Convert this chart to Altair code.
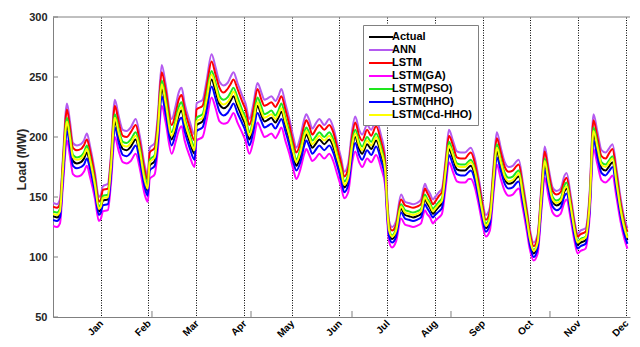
import altair as alt
import pandas as pd

months = ["Jan", "Feb", "Mar", "Apr", "May", "Jun", "Jul", "Aug", "Sep", "Oct", "Nov", "Dec"]
month_pos = [1, 2, 3, 4, 5, 6, 7, 8, 9, 10, 11, 12]
y_ticks = [50, 100, 150, 200, 250, 300]
minor_x_ticks = [2.073, 4.147, 6.262, 8.335, 10.408]

x = [0.000, 0.084, 0.146, 0.209, 0.292, 0.355, 0.418, 0.501, 0.585, 0.647,
     0.710, 0.773, 0.877, 0.961, 1.003, 1.044, 1.149, 1.211, 1.295, 1.378,
     1.462, 1.545, 1.629, 1.733, 1.817, 1.921, 1.984, 2.026, 2.130, 2.193,
     2.277, 2.360, 2.485, 2.569, 2.632, 2.694, 2.757, 2.862, 2.966, 3.008,
     3.133, 3.217, 3.321, 3.405, 3.488, 3.572, 3.655, 3.718, 3.780, 3.864,
     3.968, 4.031, 4.114, 4.198, 4.282, 4.365, 4.428, 4.490, 4.574, 4.657,
     4.720, 4.783, 4.866, 4.950, 5.033, 5.096, 5.180, 5.263, 5.305, 5.368,
     5.430, 5.514, 5.577, 5.681, 5.786, 5.869, 5.953, 6.036, 6.099, 6.182,
     6.266, 6.329, 6.412, 6.475, 6.579, 6.663, 6.767, 6.872, 6.955, 6.997,
     7.039, 7.101, 7.185, 7.289, 7.373, 7.456, 7.540, 7.623, 7.707, 7.790,
     7.832, 7.895, 7.958, 8.000, 8.083, 8.146, 8.229, 8.292, 8.376, 8.459,
     8.543, 8.626, 8.710, 8.751, 8.835, 8.918, 8.981, 9.065, 9.148, 9.231,
     9.294, 9.378, 9.461, 9.545, 9.628, 9.712, 9.754, 9.837, 9.921, 9.983,
     10.067, 10.150, 10.234, 10.297, 10.380, 10.464, 10.547, 10.631, 10.714, 10.756,
     10.840, 10.923, 10.986, 11.048, 11.153, 11.236, 11.320, 11.403, 11.487, 11.571,
     11.654, 11.717, 11.800, 11.884, 11.967, 12.030]

actual = [134, 133, 136, 170, 210, 196, 180, 178, 179, 182,
          187, 178, 158, 138, 140, 147, 148, 170, 213, 200,
          190, 189, 192, 198, 185, 162, 155, 176, 180, 200,
          240, 225, 198, 208, 218, 222, 210, 196, 186, 210,
          213, 228, 248, 238, 227, 224, 226, 230, 234, 226,
          216, 210, 198, 210, 226, 218, 213, 214, 216, 212,
          216, 221, 210, 198, 184, 176, 184, 198, 202, 197,
          191, 195, 198, 194, 198, 192, 180, 168, 158, 164,
          190, 200, 190, 186, 194, 190, 197, 185, 170, 140,
          120, 115, 120, 140, 135, 134, 133, 134, 136, 148,
          145, 141, 136, 138, 142, 145, 170, 190, 182, 173,
          172, 172, 175, 176, 168, 152, 138, 124, 130, 165,
          188, 176, 165, 161, 162, 166, 167, 150, 130, 114,
          103, 110, 150, 177, 160, 146, 143, 145, 155, 157,
          140, 120, 110, 112, 114, 140, 202, 188, 174, 172,
          176, 179, 160, 138, 122, 114]

ann = [145, 144, 148, 184, 228, 213, 195, 193, 194, 197,
       203, 193, 171, 150, 152, 159, 161, 184, 231, 217,
       206, 205, 208, 215, 201, 176, 168, 191, 195, 217,
       260, 244, 215, 226, 237, 241, 228, 213, 202, 228,
       231, 247, 269, 258, 246, 243, 245, 250, 254, 245,
       234, 228, 215, 228, 245, 237, 231, 232, 234, 230,
       234, 240, 228, 215, 200, 191, 200, 215, 219, 214,
       207, 212, 215, 210, 215, 208, 195, 182, 171, 178,
       206, 217, 206, 202, 210, 206, 214, 201, 184, 152,
       130, 125, 130, 152, 146, 145, 144, 145, 148, 161,
       157, 153, 148, 150, 154, 157, 184, 206, 197, 188,
       187, 187, 190, 191, 182, 165, 150, 135, 141, 179,
       204, 191, 179, 175, 176, 180, 181, 163, 141, 124,
       112, 119, 163, 192, 174, 158, 155, 157, 168, 170,
       152, 130, 119, 122, 124, 152, 219, 204, 189, 187,
       191, 194, 174, 150, 132, 124]

lstm = [142, 141, 144, 180, 223, 208, 191, 189, 190, 193,
        198, 189, 167, 146, 148, 156, 157, 180, 226, 212,
        201, 200, 204, 210, 196, 172, 164, 187, 191, 212,
        254, 239, 210, 220, 231, 235, 223, 208, 197, 223,
        226, 242, 263, 252, 241, 237, 240, 244, 248, 240,
        229, 223, 210, 223, 240, 231, 226, 227, 229, 225,
        229, 234, 223, 210, 195, 187, 195, 210, 214, 209,
        202, 207, 210, 206, 210, 204, 191, 178, 167, 174,
        201, 212, 201, 197, 206, 201, 209, 196, 180, 148,
        127, 122, 127, 148, 143, 142, 141, 142, 144, 157,
        154, 149, 144, 146, 151, 154, 180, 201, 193, 183,
        182, 182, 186, 187, 178, 161, 146, 131, 138, 175,
        199, 187, 175, 171, 172, 176, 177, 159, 138, 121,
        109, 117, 159, 188, 170, 155, 152, 154, 164, 166,
        148, 127, 117, 119, 121, 148, 214, 199, 184, 182,
        187, 190, 170, 146, 129, 121]

lstm_ga = [126, 125, 128, 160, 197, 184, 169, 167, 168, 171,
           176, 167, 149, 130, 132, 138, 139, 160, 200, 188,
           179, 178, 180, 186, 174, 152, 146, 165, 169, 188,
           226, 212, 186, 196, 205, 209, 197, 184, 175, 197,
           200, 214, 233, 224, 213, 211, 212, 216, 220, 212,
           203, 197, 186, 197, 212, 205, 200, 201, 203, 199,
           203, 208, 197, 186, 173, 165, 173, 186, 190, 185,
           180, 183, 186, 182, 186, 180, 169, 158, 149, 154,
           179, 188, 179, 175, 182, 179, 185, 174, 160, 132,
           113, 108, 113, 132, 127, 126, 125, 126, 128, 139,
           136, 133, 128, 130, 133, 136, 160, 179, 171, 163,
           162, 162, 165, 165, 158, 143, 130, 117, 122, 155,
           177, 165, 155, 151, 152, 156, 157, 141, 122, 107,
           97, 103, 141, 166, 150, 137, 134, 136, 146, 148,
           132, 113, 103, 105, 107, 132, 190, 177, 164, 162,
           165, 168, 150, 130, 115, 107]

lstm_pso = [138, 137, 140, 175, 216, 202, 185, 183, 184, 187,
            193, 183, 163, 142, 144, 151, 152, 175, 219, 206,
            196, 195, 198, 204, 191, 167, 160, 181, 185, 206,
            247, 232, 204, 214, 225, 229, 216, 202, 192, 216,
            219, 235, 255, 245, 234, 231, 233, 237, 241, 233,
            222, 216, 204, 216, 233, 225, 219, 220, 222, 218,
            222, 228, 216, 204, 190, 181, 190, 204, 208, 203,
            197, 201, 204, 200, 204, 198, 185, 173, 163, 169,
            196, 206, 196, 192, 200, 196, 203, 191, 175, 144,
            124, 118, 124, 144, 139, 138, 137, 138, 140, 152,
            149, 145, 140, 142, 146, 149, 175, 196, 187, 178,
            177, 177, 180, 181, 173, 157, 142, 128, 134, 170,
            194, 181, 170, 166, 167, 171, 172, 155, 134, 117,
            106, 113, 155, 182, 165, 150, 147, 149, 160, 162,
            144, 124, 113, 115, 117, 144, 208, 194, 179, 177,
            181, 184, 165, 142, 126, 117]

lstm_hho = [131, 130, 133, 166, 205, 191, 176, 174, 175, 177,
            182, 174, 154, 135, 137, 143, 144, 166, 208, 195,
            185, 184, 187, 193, 180, 158, 151, 172, 176, 195,
            234, 219, 193, 203, 213, 216, 205, 191, 181, 205,
            208, 222, 242, 232, 221, 218, 220, 224, 228, 220,
            211, 205, 193, 205, 220, 213, 208, 209, 211, 207,
            211, 215, 205, 193, 179, 172, 179, 193, 197, 192,
            186, 190, 193, 189, 193, 187, 176, 164, 154, 160,
            185, 195, 185, 181, 189, 185, 192, 180, 166, 137,
            117, 112, 117, 137, 132, 131, 130, 131, 133, 144,
            141, 137, 133, 135, 138, 141, 166, 185, 177, 169,
            168, 168, 171, 172, 164, 148, 135, 121, 127, 161,
            183, 172, 161, 157, 158, 162, 163, 146, 127, 111,
            100, 107, 146, 173, 156, 142, 139, 141, 151, 153,
            137, 117, 107, 109, 111, 137, 197, 183, 170, 168,
            172, 175, 156, 135, 119, 111]

lstm_cdhho = [136, 135, 138, 173, 213, 199, 183, 181, 182, 185,
              190, 181, 160, 140, 142, 149, 150, 173, 216, 203,
              193, 192, 195, 201, 188, 164, 157, 179, 183, 203,
              244, 228, 201, 211, 221, 225, 213, 199, 189, 213,
              216, 231, 252, 242, 230, 227, 229, 233, 238, 229,
              219, 213, 201, 213, 229, 221, 216, 217, 219, 215,
              219, 224, 213, 201, 187, 179, 187, 201, 205, 200,
              194, 198, 201, 197, 201, 195, 183, 171, 160, 166,
              193, 203, 193, 189, 197, 193, 200, 188, 173, 142,
              122, 117, 122, 142, 137, 136, 135, 136, 138, 150,
              147, 143, 138, 140, 144, 147, 173, 193, 185, 176,
              175, 175, 178, 179, 171, 154, 140, 126, 132, 167,
              191, 179, 167, 163, 164, 168, 170, 152, 132, 116,
              105, 112, 152, 180, 162, 148, 145, 147, 157, 159,
              142, 122, 112, 114, 116, 142, 205, 191, 177, 175,
              179, 182, 162, 140, 124, 116]

series_names = ["Actual", "ANN", "LSTM", "LSTM(GA)", "LSTM(PSO)", "LSTM(HHO)", "LSTM(Cd-HHO)"]
series_colors = ["#000000", "#B45AF0", "#FF0000", "#FF00FF", "#1EE61E", "#0000FF", "#FFFF00"]
series_values = [actual, ann, lstm, lstm_ga, lstm_pso, lstm_hho, lstm_cdhho]

wide = pd.DataFrame({"x": x, **{n: v for n, v in zip(series_names, series_values)}})
long = wide.melt(id_vars="x", var_name="series", value_name="load")

FONT = "Liberation Sans"
label_expr = "[" + ",".join("'" + m + "'" for m in months) + "][datum.value - 1]"

W = 577
x_scale = alt.Scale(domain=[0, 12.084], nice=False, zero=False)
y_scale = alt.Scale(domain=[50, 300], nice=False, zero=False)

x_axis = alt.Axis(values=month_pos, labelExpr=label_expr, grid=True, gridDash=[1, 1.5],
                  gridColor="#000000", gridWidth=1, gridOpacity=1, ticks=False,
                  domainColor="#808080", labelAngle=315, labelAlign="right",
                  labelBaseline="top", labelPadding=1, labelOffset=-3, labelFontSize=10,
                  labelFontWeight="bold", labelColor="#000000", labelFont=FONT)
y_axis = alt.Axis(values=y_ticks, ticks=False, grid=False, domainColor="#808080",
                  labelPadding=6, labelFontSize=11, labelFontWeight="bold",
                  labelColor="#262626", labelFont=FONT,
                  titleFontSize=12, titleFontWeight="bold", titleColor="#262626", titleFont=FONT,
                  titleAngle=270, titleX=-32, titleY=142, titleAlign="center",
                  titleBaseline="middle")

x_enc = alt.X("x:Q", scale=x_scale, axis=x_axis, title=None)
y_enc = alt.Y("load:Q", scale=y_scale, axis=y_axis, title="Load (MW)")

lines = alt.Chart(long).mark_line(strokeWidth=2, interpolate="monotone", clip=True).encode(
    x=x_enc,
    y=y_enc,
    color=alt.Color("series:N", title=None,
                    scale=alt.Scale(domain=series_names, range=series_colors),
                    legend=alt.Legend(orient="none", legendX=310, legendY=8,
                                      symbolType="M-2,0H2", symbolStrokeWidth=2,
                                      symbolSize=144, symbolOffset=6,
                                      labelFontSize=11, labelFontWeight="bold",
                                      labelColor="#000000", labelFont=FONT,
                                      padding=5, rowPadding=1, labelOffset=4,
                                      strokeColor="#808080", fillColor="#FFFFFF")),
)

ytick_layer = alt.Chart(pd.DataFrame({"load": y_ticks})).mark_rule(
    color="#808080", strokeWidth=1).encode(y=y_enc, x=alt.value(0), x2=alt.value(5))

minor_layer = alt.Chart(pd.DataFrame({"x": minor_x_ticks})).mark_rule(
    color="#808080", strokeWidth=1).encode(x=x_enc, y=alt.value(300), y2=alt.value(294))

top_border = alt.Chart(pd.DataFrame({"load": [y_ticks[-1]]})).mark_rule(
    color="#808080", strokeWidth=1).encode(y=y_enc, x=alt.value(0), x2=alt.value(W))

chart = alt.layer(lines, ytick_layer, minor_layer, top_border).properties(
    width=W, height=300,
    autosize=alt.AutoSizeParams(type="none"),
    padding={"left": 45, "top": 9, "right": 2, "bottom": 22},
    background="#FFFFFF",
).configure_view(strokeWidth=0)

chart.save("out.html", embed_options={"renderer": "svg", "actions": False})
